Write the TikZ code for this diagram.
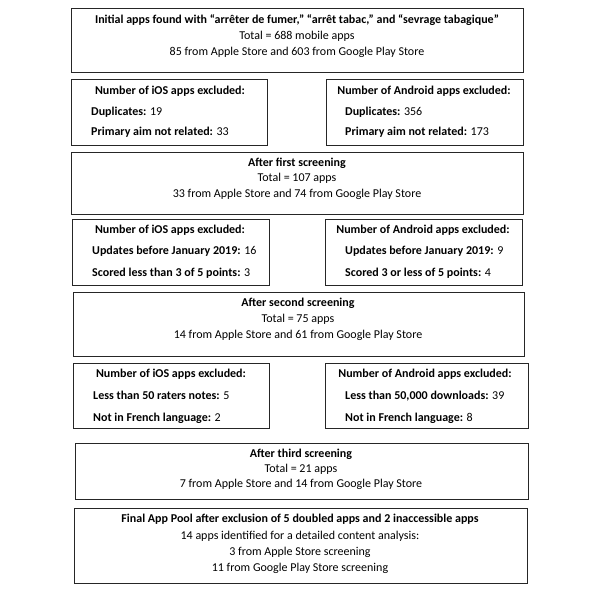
\documentclass[tikz,border=0pt]{standalone}
\usepackage{fontspec}
\setmainfont{Carlito}
\begin{document}
\begin{tikzpicture}[x=1pt,y=-1pt,
  box/.style={draw=black!85, line width=1pt, inner sep=0pt, anchor=north west},
  ttl/.style={inner sep=0pt, anchor=base, font=\fontsize{12}{16}\selectfont\bfseries},
  txt/.style={inner sep=0pt, anchor=base, font=\fontsize{12}{16}\selectfont},
  item/.style={inner sep=0pt, anchor=base west, font=\fontsize{12}{16}\selectfont}]
\useasboundingbox[fill=white] (0,0) rectangle (600,593);
% boxes
\node[box, minimum width=452, minimum height=64] (b1) at (71,8) {};
\node[box, minimum width=196, minimum height=66] (i1) at (71,79) {};
\node[box, minimum width=197, minimum height=66] (a1) at (326,79) {};
\node[box, minimum width=452, minimum height=62] (s1) at (71,152) {};
\node[box, minimum width=197, minimum height=66] (i2) at (72,219) {};
\node[box, minimum width=197, minimum height=66] (a2) at (325,219) {};
\node[box, minimum width=451, minimum height=64] (s2) at (73,292) {};
\node[box, minimum width=196, minimum height=65] (i3) at (73,363) {};
\node[box, minimum width=203, minimum height=65] (a3) at (325,363) {};
\node[box, minimum width=453, minimum height=56] (s3) at (75,443) {};
\node[box, minimum width=453, minimum height=75] (f) at (74,508) {};
% box 1
\node[ttl] (b1t) at (297,24) {Initial apps found with “arrêter de fumer,” “arrêt tabac,” and “sevrage tabagique”};
\node[txt] (b1a) at (297,40) {Total = 688 mobile apps};
\node[txt] (b1b) at (297,56) {85 from Apple Store and 603 from Google Play Store};
% iOS 1
\node[ttl] (i1t) at (170,95) {Number of iOS apps excluded:};
\node[item] (i1a) at (91,116) {\textbf{Duplicates:} 19};
\node[item] (i1b) at (91,136) {\textbf{Primary aim not related:} 33};
% Android 1
\node[ttl] (a1t) at (424,95) {Number of Android apps excluded:};
\node[item] (a1a) at (345,116) {\textbf{Duplicates:} 356};
\node[item] (a1b) at (345,136) {\textbf{Primary aim not related:} 173};
% first screening
\node[ttl] (s1t) at (297,167) {After first screening};
\node[txt] (s1a) at (297,182) {Total = 107 apps};
\node[txt] (s1b) at (297,198) {33 from Apple Store and 74 from Google Play Store};
% iOS 2
\node[ttl] (i2t) at (170,234) {Number of iOS apps excluded:};
\node[item] (i2a) at (92,255) {\textbf{Updates before January 2019:} 16};
\node[item] (i2b) at (92,277) {\textbf{Scored less than 3 of 5 points:} 3};
% Android 2
\node[ttl] (a2t) at (423,234) {Number of Android apps excluded:};
\node[item] (a2a) at (345,255) {\textbf{Updates before January 2019:} 9};
\node[item] (a2b) at (345,277) {\textbf{Scored 3 or less of 5 points:} 4};
% second screening
\node[ttl] (s2t) at (298,307) {After second screening};
\node[txt] (s2a) at (298,323) {Total = 75 apps};
\node[txt] (s2b) at (298,339) {14 from Apple Store and 61 from Google Play Store};
% iOS 3
\node[ttl] (i3t) at (171,378) {Number of iOS apps excluded:};
\node[item] (i3a) at (93,400) {\textbf{Less than 50 raters notes:} 5};
\node[item] (i3b) at (93,422) {\textbf{Not in French language:} 2};
% Android 3
\node[ttl] (a3t) at (425,378) {Number of Android apps excluded:};
\node[item] (a3a) at (345,400) {\textbf{Less than 50,000 downloads:} 39};
\node[item] (a3b) at (345,422) {\textbf{Not in French language:} 8};
% third screening
\node[ttl] (s3t) at (301,457) {After third screening};
\node[txt] (s3a) at (301,472) {Total = 21 apps};
\node[txt] (s3b) at (301,488) {7 from Apple Store and 14 from Google Play Store};
% final
\node[ttl] (ft) at (300,522) {Final App Pool after exclusion of 5 doubled apps and 2 inaccessible apps};
\node[txt] (fa) at (300,539) {14 apps identified for a detailed content analysis:};
\node[txt] (fb) at (300,555) {3 from Apple Store screening};
\node[txt] (fc) at (300,571) {11 from Google Play Store screening};
\end{tikzpicture}
\end{document}
